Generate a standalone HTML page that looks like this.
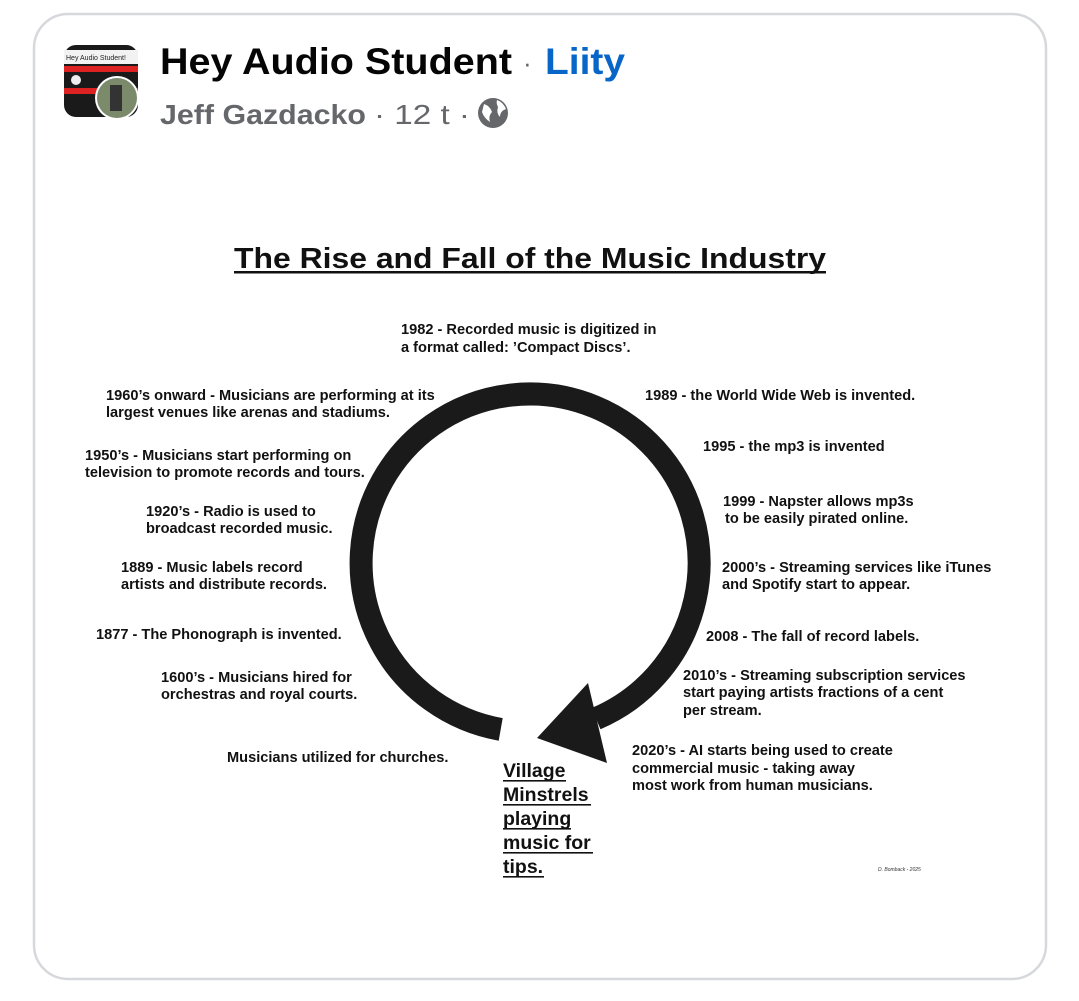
<!DOCTYPE html>
<html><head><meta charset="utf-8"><style>
html,body{margin:0;padding:0;background:#fff;width:1079px;height:1001px;overflow:hidden}
svg{display:block}
.t{font-family:"Liberation Sans",Arial,sans-serif;font-weight:bold;font-size:14.6px;fill:#111}
</style></head><body>
<svg width="1079" height="1001" viewBox="0 0 1079 1001" xmlns="http://www.w3.org/2000/svg">
<rect x="34" y="14" width="1012" height="965" rx="34" fill="#fff" stroke="#d6d8dc" stroke-width="2.5"/>
<!-- avatar -->
<rect x="64" y="45" width="74" height="72" rx="12" fill="#1a1a1a"/>
<rect x="64" y="50" width="74" height="14" fill="#f2f2f2"/>
<text x="66" y="60" font-family="Liberation Sans" font-size="7" fill="#222">Hey Audio Student!</text>
<rect x="64" y="66" width="74" height="6" fill="#d22"/>
<rect x="64" y="88" width="74" height="6" fill="#d22"/>
<circle cx="76" cy="80" r="5" fill="#eee"/>
<circle cx="117" cy="98" r="22" fill="#fff"/>
<circle cx="117" cy="98" r="20" fill="#7a8a6a"/>
<rect x="110" y="85" width="12" height="26" fill="#333"/>
<text x="160" y="74" font-family="Liberation Sans" font-weight="bold" font-size="37" fill="#050505" textLength="352" lengthAdjust="spacingAndGlyphs">Hey Audio Student</text>
<text x="523" y="72" font-family="Liberation Sans" font-size="26" fill="#65676b">·</text>
<text x="545" y="74" font-family="Liberation Sans" font-weight="bold" font-size="37" fill="#0866c8" textLength="80" lengthAdjust="spacingAndGlyphs">Liity</text>
<text x="160" y="124" font-family="Liberation Sans" font-weight="bold" font-size="28" fill="#65676b" textLength="206" lengthAdjust="spacingAndGlyphs">Jeff Gazdacko</text>
<text x="374" y="124" font-family="Liberation Sans" font-size="28" fill="#65676b" textLength="96" lengthAdjust="spacingAndGlyphs">· 12 t ·</text>
<circle cx="493" cy="113" r="15" fill="#65676b"/>
<path d="M484 104 q6 2 8 8 q-4 4 -2 10 q-6 -4 -8 -10z M497 100 q6 2 9 9 q-6 2 -6 8 q-4 -4 -2 -10 q-2 -4 -1 -7z" fill="#fff"/>

<text x="234" y="268" font-family="Liberation Sans" font-weight="bold" font-size="28.5" fill="#111" textLength="592" lengthAdjust="spacingAndGlyphs">The Rise and Fall of the Music Industry</text>
<rect x="234" y="271" width="592" height="2.5" fill="#111"/>

<!-- ring -->
<path d="M500.7 729.4 A169 169 0 1 1 596 718.6" fill="none" stroke="#1a1a1a" stroke-width="23"/>
<polygon points="537,738 588,683 607,763" fill="#1a1a1a"/>

<g class="t">
<text x="401" y="334">1982 - Recorded music is digitized in</text>
<text x="401" y="352">a format called: ’Compact Discs’.</text>
<text x="106" y="400">1960’s onward - Musicians are performing at its</text>
<text x="106" y="417">largest venues like arenas and stadiums.</text>
<text x="85" y="460">1950’s - Musicians start performing on</text>
<text x="85" y="477">television to promote records and tours.</text>
<text x="146" y="516">1920’s - Radio is used to</text>
<text x="146" y="533">broadcast recorded music.</text>
<text x="121" y="572">1889 - Music labels record</text>
<text x="121" y="589">artists and distribute records.</text>
<text x="96" y="639">1877 - The Phonograph is invented.</text>
<text x="161" y="682">1600’s - Musicians hired for</text>
<text x="161" y="699">orchestras and royal courts.</text>
<text x="227" y="762">Musicians utilized for churches.</text>
<text x="645" y="400">1989 - the World Wide Web is invented.</text>
<text x="703" y="451">1995 - the mp3 is invented</text>
<text x="723" y="506">1999 - Napster allows mp3s</text>
<text x="725" y="523">to be easily pirated online.</text>
<text x="722" y="572">2000’s - Streaming services like iTunes</text>
<text x="722" y="589">and Spotify start to appear.</text>
<text x="706" y="641">2008 - The fall of record labels.</text>
<text x="683" y="680">2010’s - Streaming subscription services</text>
<text x="683" y="697">start paying artists fractions of a cent</text>
<text x="683" y="715">per stream.</text>
<text x="632" y="755">2020’s - AI starts being used to create</text>
<text x="632" y="773">commercial music - taking away</text>
<text x="632" y="790">most work from human musicians.</text>
</g>
<g font-family="Liberation Sans" font-weight="bold" font-size="19.5" fill="#111">
<text x="503" y="777">Village</text>
<text x="503" y="801">Minstrels</text>
<text x="503" y="825">playing</text>
<text x="503" y="849">music for</text>
<text x="503" y="873">tips.</text>
</g>
<g fill="#111"><rect x="503" y="780" width="63" height="1.6"/><rect x="503" y="804" width="88" height="1.6"/><rect x="503" y="828" width="68" height="1.6"/><rect x="503" y="852" width="90" height="1.6"/><rect x="503" y="876" width="41" height="1.6"/></g>
<text x="878" y="871" font-family="Liberation Sans" font-style="italic" font-size="5" fill="#333">D. Bomback - 2025</text>
</svg>
</body></html>
